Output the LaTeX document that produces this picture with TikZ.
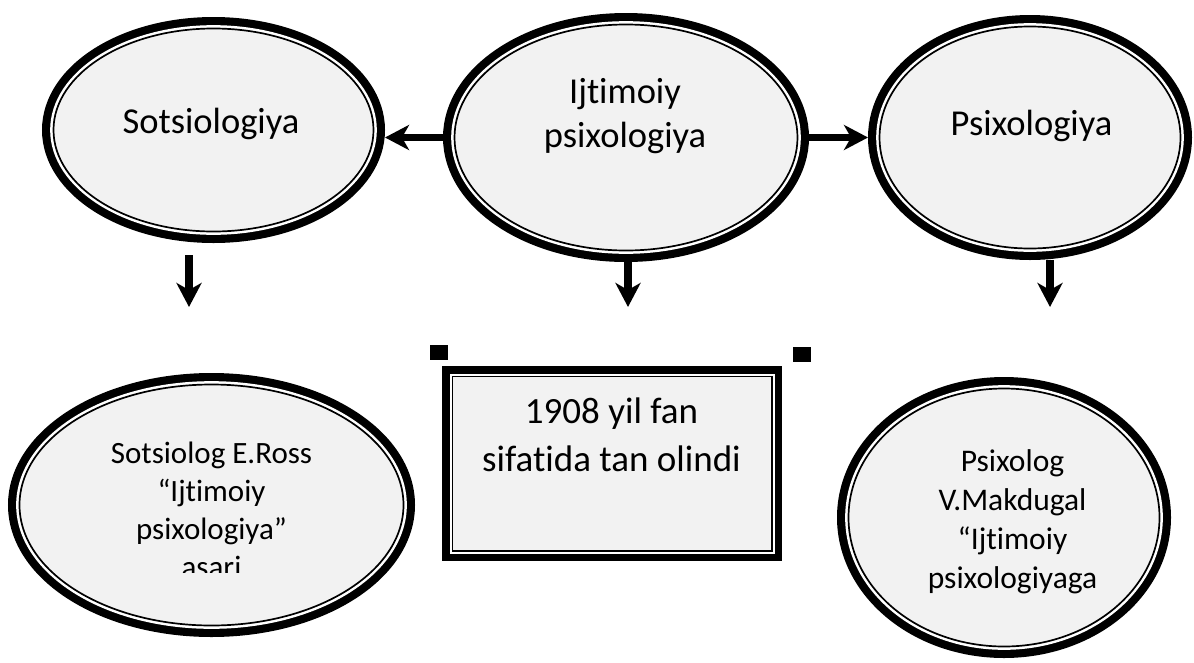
\documentclass[tikz,border=0pt]{standalone}
\usepackage{fontspec}
\setmainfont[Ligatures=NoCommon]{Carlito}
\usetikzlibrary{arrows.meta,shapes.geometric}

\begin{document}
\begin{tikzpicture}[x=1pt,y=-1pt,
  oval/.style={ellipse,inner sep=0pt,outer sep=11.5pt,fill=black!5,draw,line width=1.7pt,
    preaction={draw,line width=23pt},preaction={draw=white,line width=6.7pt}},
  box/.style={rectangle,inner sep=0pt,outer sep=10.25pt,fill=black!5,draw,line width=1.5pt,
    preaction={draw,line width=20.5pt},preaction={draw=white,line width=5.5pt}},
  handle/.style={fill=black,inner sep=0pt,minimum width=18pt,minimum height=15pt},
  arr/.style={line width=7.5pt,-{Stealth[length=24pt,width=25pt,inset=7pt]}},
  big/.style={font=\fontsize{36.5}{44}\selectfont,align=center,anchor=base,inner sep=0pt},
  small/.style={font=\fontsize{31}{37.7}\selectfont,align=center,anchor=base,inner sep=0pt}]
\useasboundingbox (0,0) rectangle (1194,662);
% top row
\node[oval,minimum width=320pt,minimum height=203pt] (soc) at (213.5,130) {};
\node[oval,minimum width=343pt,minimum height=226pt] (ijt) at (626,137.5) {};
\node[oval,minimum width=301pt,minimum height=222pt] (psi) at (1030,137.5) {};
% bottom row
\node[oval,minimum width=384pt,minimum height=241pt] (ross) at (211.5,505) {};
\node[box,minimum width=319.5pt,minimum height=174.5pt] (fan) at (612,463.5) {};
\node[oval,minimum width=311pt,minimum height=258pt] (mak) at (1004,517.5) {};
\node[handle] (hl) at (439,352) {};
\node[handle] (hr) at (802,354.5) {};
% texts (base = last line)
\node[big] (soc-t) at (211,133) {Sotsiologiya};
\node[big] (ijt-t) at (625,147) {Ijtimoiy\\psixologiya};
\node[big] (psi-t) at (1031.5,135) {Psixologiya};
\node[big,font=\fontsize{37}{48}\selectfont] (fan-t) at (611.5,471) {1908 yil fan\\sifatida tan olindi};
\begin{scope}
\clip (0,0) rectangle (1194,572); % asari is cut off
\node[small] (ross-t) at (211.5,577) {Sotsiolog E.Ross\\“Ijtimoiy\\psixologiya”\\asari};
\end{scope}
\node[small,font=\fontsize{31.5}{38.7}\selectfont] (mak-t) at (1012.5,588) {Psixolog\\V.Makdugal\\“Ijtimoiy\\psixologiyaga};
% arrows
\draw[arr] (ijt.west) -- (ijt.west -| soc.east);
\draw[arr] (ijt.east) -- (ijt.east -| psi.west);
\foreach \n/\dx/\dy/\len in {soc/-24.5/-12/52, ijt/2/0/45, psi/20/0/47} % edit here for the down arrows
\draw[arr] ([xshift=\dx,yshift=\dy]\n.south) -- ++(0,\len);
\end{tikzpicture}
\end{document}
